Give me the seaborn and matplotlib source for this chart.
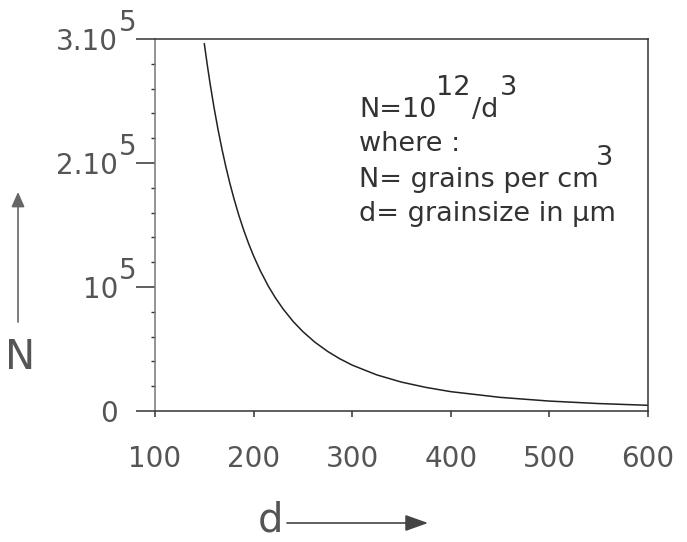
import matplotlib
matplotlib.use("Agg")
import matplotlib.pyplot as plt
from matplotlib.ticker import MultipleLocator
import seaborn as sns
import pandas as pd

# Values (N = 10^12 / d^3)
d_um = [150, 153, 156, 160, 164, 168, 172, 176, 180, 185, 190, 195, 200,
        207, 215, 222, 230, 240, 250, 262, 275, 287, 300, 325, 350, 375,
        400, 450, 500, 550, 600]
n_grains = [296300, 279200, 263400, 244100, 226700, 210900, 196500, 183400,
            171500, 157900, 145800, 134900, 125000, 112800, 100600, 91400,
            82200, 72300, 64000, 55600, 48100, 42300, 37000, 29100, 23300,
            19000, 15600, 11000, 8000, 6000, 4600]
x_ticks = [100, 200, 300, 400, 500, 600]
y_ticks = [0, 100000, 200000, 300000]
y_tick_base = ["0", "10", "2.10", "3.10"]
y_tick_sup = ["", "5", "5", "5"]

df = pd.DataFrame({"d": d_um, "N": n_grains})

sns.set_theme(style="ticks")
plt.rcParams["font.family"] = ["DejaVu Sans"]

fig = plt.figure(figsize=(6.87, 5.42), dpi=100)
ax = fig.add_axes([155 / 687, 1 - 411 / 542, 493 / 687, 372 / 542])

sns.lineplot(data=df, x="d", y="N", ax=ax, color="#222222", linewidth=1.1)

ax.set_xlim(100, 600)
ax.set_ylim(0, 300000)
ax.set_xlabel("")
ax.set_ylabel("")

for s in ax.spines.values():
    s.set_visible(True)
    s.set_color("#333333")
    s.set_linewidth(1.1)
ax.spines["left"].set_color("#777777")

txt_col = "#555555"
ax.set_xticks(x_ticks)
ax.set_xticklabels([str(v) for v in x_ticks])
ax.set_yticks(y_ticks)
ax.set_yticklabels(y_tick_base)
ax.yaxis.set_minor_locator(MultipleLocator(20000))
ax.tick_params(axis="x", direction="out", length=4.3, width=1.1, color="#333333",
               pad=20, labelsize=20, labelcolor=txt_col)
ax.tick_params(axis="y", which="major", direction="out", length=13.7, width=1.1,
               color="#333333", pad=13, labelsize=20, labelcolor=txt_col)
ax.tick_params(axis="y", which="minor", direction="out", length=3.2, width=1.0,
               color="#333333")

for val, sup in zip(y_ticks, y_tick_sup):
    if sup:
        ax.annotate(sup, xy=(0, val), xycoords=("axes fraction", "data"),
                    xytext=(-26, 6), textcoords="offset points",
                    ha="left", va="baseline", fontsize=20, color=txt_col,
                    annotation_clip=False)

# Formula text block
tcol = "#333333"
fs = 19.5
raise_pt = 16


def sup_after(base, s, dx=0):
    return ax.annotate(s, xy=(1, 0), xycoords=base, xytext=(dx, raise_pt),
                       textcoords="offset points", ha="left", va="bottom",
                       fontsize=fs, color=tcol)


def after(base, s):
    return ax.annotate(s, xy=(1, 0), xycoords=base, xytext=(1, -raise_pt),
                       textcoords="offset points", ha="left", va="bottom",
                       fontsize=fs, color=tcol)


x0 = (359 - 155) / 493
t1 = ax.text(x0, (411 - 117) / 372, "N=10", transform=ax.transAxes,
             fontsize=fs, color=tcol, va="baseline", ha="left")
s1 = sup_after(t1, "12")
t1b = after(s1, "/d")
sup_after(t1b, "3", dx=1)
ax.text(x0, (411 - 151) / 372, "where :", transform=ax.transAxes,
        fontsize=fs, color=tcol, va="baseline", ha="left")
t3 = ax.text(x0, (411 - 187) / 372, "N= grains per cm", transform=ax.transAxes,
             fontsize=fs, color=tcol, va="baseline", ha="left")
sup_after(t3, "3", dx=-2)
ax.text(x0, (411 - 221) / 372, "d= grainsize in \u03bcm", transform=ax.transAxes,
        fontsize=fs, color=tcol, va="baseline", ha="left")

# Axis labels with arrows
acol = "#666666"
fig.text(20 / 687, 1 - 358 / 542, "N", fontsize=29, color=txt_col,
         ha="center", va="center")
fig.text(270 / 687, 1 - 521 / 542, "d", fontsize=29, color=txt_col,
         ha="center", va="center")
fig.add_artist(matplotlib.patches.FancyArrowPatch(
    (18 / 687, 1 - 322 / 542), (18 / 687, 1 - 192 / 542),
    transform=fig.transFigure, arrowstyle="-|>,head_length=9,head_width=4",
    color=acol, linewidth=1.2, shrinkA=0, shrinkB=0))
fig.add_artist(matplotlib.patches.FancyArrowPatch(
    (287 / 687, 1 - 523 / 542), (428 / 687, 1 - 523 / 542),
    transform=fig.transFigure, arrowstyle="-|>,head_length=14,head_width=5",
    color="#444444", linewidth=1.2, shrinkA=0, shrinkB=0))

fig.savefig("out.png", dpi=100)
